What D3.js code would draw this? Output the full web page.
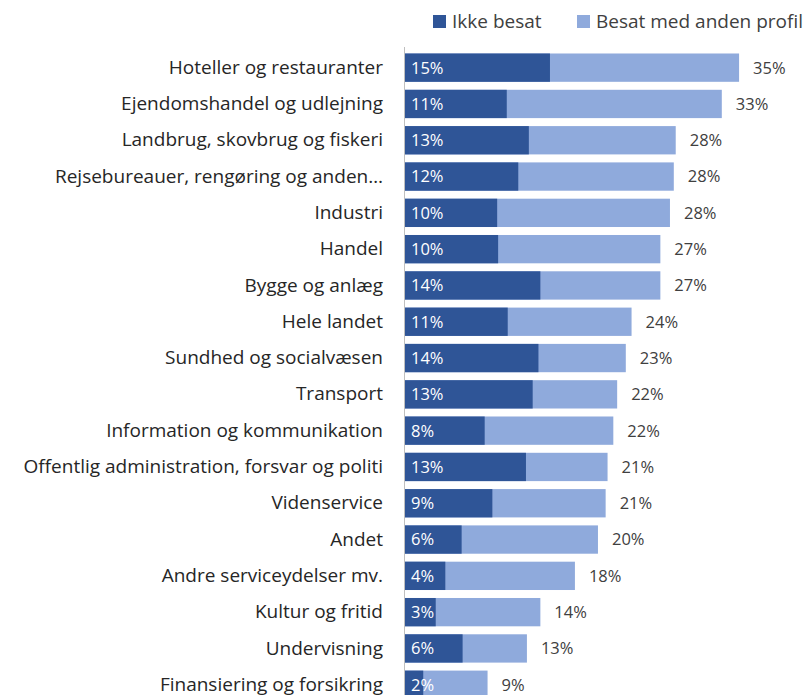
<!DOCTYPE html>
<html>
<head>
<meta charset="utf-8">
<script src="https://cdn.jsdelivr.net/npm/d3@7"></script>
<style>
  body { margin: 0; background: #fff; }
  svg { display: block; font-family: "Open Sans", "Noto Sans", sans-serif; }
</style>
</head>
<body>
<div id="chart"></div>
<script>
// categories, top to bottom
var categories = [
  "Hoteller og restauranter",
  "Ejendomshandel og udlejning",
  "Landbrug, skovbrug og fiskeri",
  "Rejsebureauer, rengøring og anden…",
  "Industri",
  "Handel",
  "Bygge og anlæg",
  "Hele landet",
  "Sundhed og socialvæsen",
  "Transport",
  "Information og kommunikation",
  "Offentlig administration, forsvar og politi",
  "Videnservice",
  "Andet",
  "Andre serviceydelser mv.",
  "Kultur og fritid",
  "Undervisning",
  "Finansiering og forsikring"
];
// share not filled (%)
var ikkeBesat = [15.1, 10.6, 12.9, 11.8, 9.6, 9.7, 14.1, 10.7, 13.9, 13.3, 8.3, 12.6, 9.1, 5.9, 4.2, 3.2, 6.0, 1.9];
// total share (%), i.e. ikke besat + besat med anden profil
var total = [34.8, 33.0, 28.2, 28.0, 27.6, 26.6, 26.6, 23.6, 23.0, 22.1, 21.7, 21.1, 20.9, 20.1, 17.7, 14.1, 12.7, 8.6];
var seriesNames = ["Ikke besat", "Besat med anden profil"];
var colors = ["#2F5597", "#8FAADC"];

var width = 805, height = 695;
var x0 = 405;

var data = categories.map(function (c, i) {
  return { cat: c, dark: ikkeBesat[i], total: total[i] };
});

var svg = d3.select("#chart").append("svg")
  .attr("width", width)
  .attr("height", height);

var x = d3.scaleLinear().domain([0, 35]).range([x0, x0 + 35 * 9.6]);
var y = d3.scaleBand().domain(categories)
  .range([49.5, 49.5 + 18 * 36.3])
  .paddingInner(0.22)
  .paddingOuter(0.11);

// light (full) bars
svg.append("g").selectAll("rect")
  .data(data).enter().append("rect")
  .attr("x", x(0))
  .attr("y", d => y(d.cat))
  .attr("width", d => x(d.total) - x(0))
  .attr("height", y.bandwidth())
  .attr("fill", colors[1]);

// dark bars
svg.append("g").selectAll("rect")
  .data(data).enter().append("rect")
  .attr("x", x(0))
  .attr("y", d => y(d.cat))
  .attr("width", d => x(d.dark) - x(0))
  .attr("height", y.bandwidth())
  .attr("fill", colors[0]);

// labels inside the dark bars
svg.append("g").selectAll("text")
  .data(data).enter().append("text")
  .attr("x", x(0) + 6)
  .attr("y", d => y(d.cat) + y.bandwidth() / 2)
  .attr("dy", "0.36em")
  .attr("fill", "#fff")
  .style("font-size", "16.5px")
  .text(d => Math.round(d.dark) + "%");

// total labels
svg.append("g").selectAll("text")
  .data(data).enter().append("text")
  .attr("x", d => x(d.total) + 14)
  .attr("y", d => y(d.cat) + y.bandwidth() / 2)
  .attr("dy", "0.36em")
  .attr("fill", "#404040")
  .style("font-size", "16.5px")
  .text(d => Math.round(d.total) + "%");

// category axis
var axis = svg.append("g")
  .attr("transform", "translate(" + (x0 - 1) + ",0)")
  .call(d3.axisLeft(y).tickSize(0).tickPadding(21));
axis.select(".domain").attr("stroke", "#BFBFBF").attr("d", "M0.5,47V" + height);
axis.selectAll("text")
  .attr("fill", "#262626")
  .style("font-size", "19px")
  .style("font-family", "\"Open Sans\", \"Noto Sans\", sans-serif");

// legend
var legend = svg.append("g");
var legendX = [433, 577];
seriesNames.forEach(function (name, i) {
  legend.append("rect")
    .attr("x", legendX[i]).attr("y", 15)
    .attr("width", 13).attr("height", 13)
    .attr("fill", colors[i]);
  legend.append("text")
    .attr("x", legendX[i] + 19).attr("y", 21.5)
    .attr("dy", "0.36em")
    .attr("fill", "#404040")
    .style("font-size", "19px")
    .text(name);
});
</script>
</body>
</html>
